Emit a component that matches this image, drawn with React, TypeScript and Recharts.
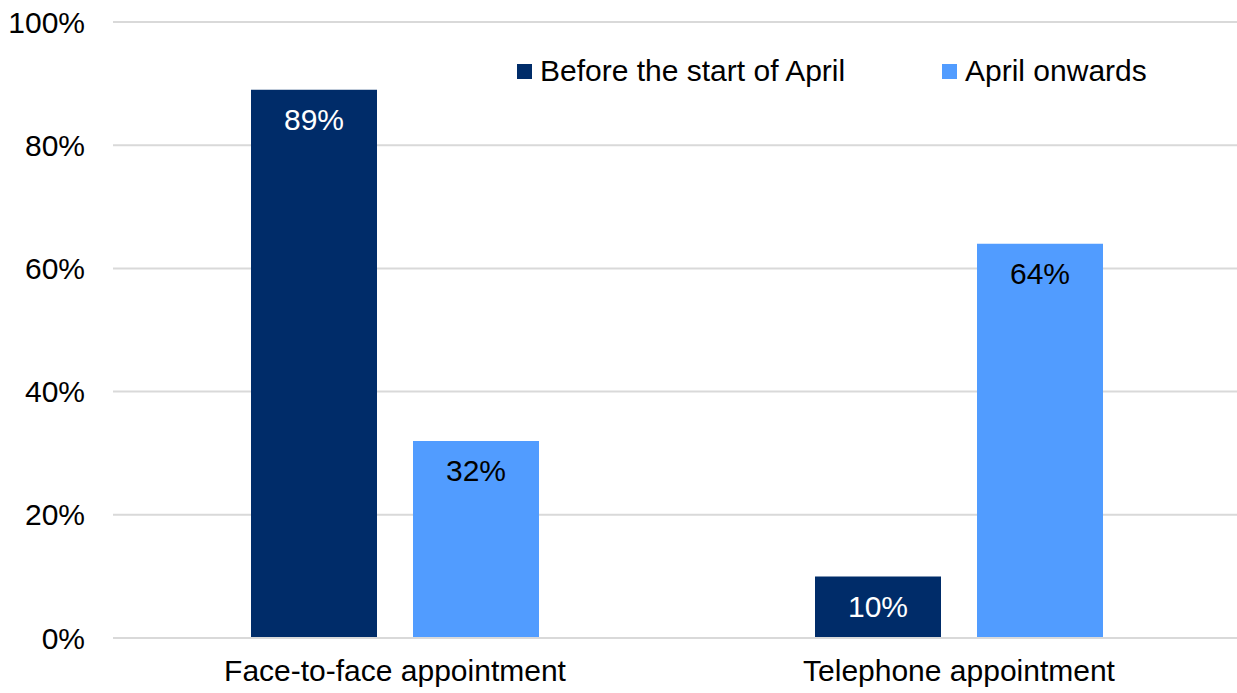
import { BarChart, Bar, XAxis, YAxis, CartesianGrid, LabelList } from 'recharts';

const categories = ['Face-to-face appointment', 'Telephone appointment'];
const beforeApril = [89, 10];
const aprilOnwards = [32, 64];
const yTicks = [0, 20, 40, 60, 80, 100];
const seriesNames = ['Before the start of April', 'April onwards'];

const DARK = '#002C69';
const LIGHT = '#519CFF';
const FONT = '"Liberation Sans", Arial, sans-serif';
const FS = 30;

const data = categories.map((name, i) => ({
  name,
  before: beforeApril[i],
  after: aprilOnwards[i],
}));

// legend drawn as an overlay so it doesn't push the plot down
function LegendBox() {
  const items = [
    { label: seriesNames[0], color: DARK, left: 517 },
    { label: seriesNames[1], color: LIGHT, left: 942 },
  ];
  return (
    <>
      {items.map((it) => (
        <div
          key={it.label}
          style={{
            position: 'absolute',
            left: it.left,
            top: 53,
            display: 'flex',
            alignItems: 'center',
            fontFamily: FONT,
            fontSize: FS,
            color: '#000',
            whiteSpace: 'nowrap',
            lineHeight: '36px',
          }}
        >
          <span style={{ width: 15, height: 15, background: it.color, marginRight: 8, display: 'inline-block' }} />
          <span>{it.label}</span>
        </div>
      ))}
    </>
  );
}

export default function App() {
  return (
    <div
      style={{
        position: 'absolute',
        left: 0,
        top: 0,
        width: 1237,
        height: 693,
        overflow: 'hidden',
        background: '#fff',
      }}
    >
      <BarChart
        width={1241}
        height={693}
        data={data}
        margin={{ top: 22, right: 0, bottom: 0, left: 0 }}
        barSize={126}
        barGap={36}
      >
        <CartesianGrid vertical={false} stroke="#d9d9d9" strokeWidth={2} />
        <XAxis
          dataKey="name"
          height={55}
          axisLine={{ stroke: '#d9d9d9', strokeWidth: 2 }}
          tickLine={false}
          tickSize={14}
          tickMargin={8}
          tick={{ fill: '#000', fontSize: FS, fontFamily: FONT }}
        />
        <YAxis
          width={113}
          domain={[0, 100]}
          ticks={yTicks}
          tickFormatter={(v) => `${v}%`}
          axisLine={false}
          tickLine={false}
          tickSize={20}
          tickMargin={8}
          tick={{ fill: '#000', fontSize: FS, fontFamily: FONT }}
        />
        <Bar dataKey="before" fill={DARK} isAnimationActive={false}>
          <LabelList
            dataKey="before"
            position="insideTop"
            offset={19}
            formatter={(v: any) => `${v}%`}
            style={{ fill: '#fff', fontSize: FS, fontFamily: FONT }}
          />
        </Bar>
        <Bar dataKey="after" fill={LIGHT} isAnimationActive={false}>
          <LabelList
            dataKey="after"
            position="insideTop"
            offset={19}
            formatter={(v: any) => `${v}%`}
            style={{ fill: '#000', fontSize: FS, fontFamily: FONT }}
          />
        </Bar>
      </BarChart>
      <LegendBox />
    </div>
  );
}
